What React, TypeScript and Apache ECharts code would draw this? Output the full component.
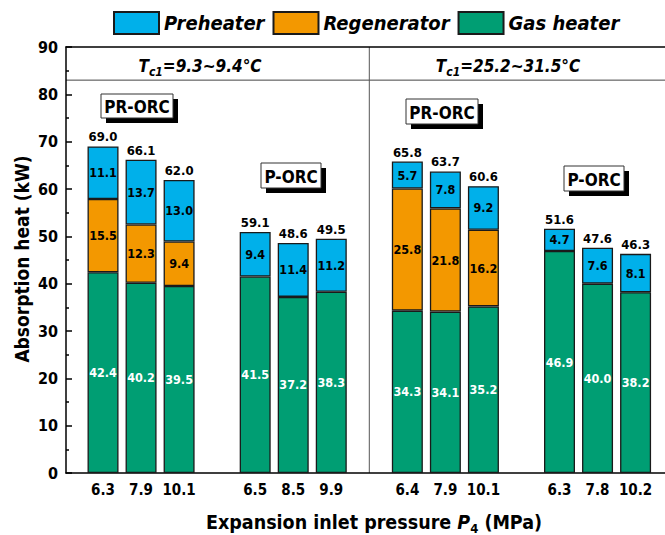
import React, { useEffect, useRef } from "react";
import * as echarts from "echarts";

// Expansion inlet pressure P4 (MPa) for each bar slot; empty slots separate the groups
const slotLabels = ["6.3", "7.9", "10.1", "", "6.5", "8.5", "9.9", "", "6.4", "7.9", "10.1", "", "6.3", "7.8", "10.2"];

// Absorbed heat per heat exchanger (kW)
const gasHeater = [42.4, 40.2, 39.5, null, 41.5, 37.2, 38.3, null, 34.3, 34.1, 35.2, null, 46.9, 40.0, 38.2];
const regenerator = [15.5, 12.3, 9.4, null, null, null, null, null, 25.8, 21.8, 16.2, null, null, null, null];
const preheater = [11.1, 13.7, 13.0, null, 9.4, 11.4, 11.2, null, 5.7, 7.8, 9.2, null, 4.7, 7.6, 8.1];

// Total absorption heat printed above each bar (kW)
const totals = [69.0, 66.1, 62.0, null, 59.1, 48.6, 49.5, null, 65.8, 63.7, 60.6, null, 51.6, 47.6, 46.3];

// Cooling-water temperature ranges of the two cases
const caseRanges = ["9.3~9.4°C", "25.2~31.5°C"];

const yTicks = { min: 0, max: 90, interval: 10 };
const headerBandValue = 83; // lower edge of the case header band
const dividerSlot = 7; // empty slot between the two cases

const FONT = "'DejaVu Sans Condensed', 'DejaVu Sans', sans-serif";
const BLUE = "#00B0EA";
const ORANGE = "#F39800";
const GREEN = "#009E73";
const EDGE = "#1a1a1a";

const fmt = (v: number | null) => (v == null ? "" : v.toFixed(1));

export default function App() {
  const ref = useRef<HTMLDivElement>(null);

  useEffect(() => {
    if (!ref.current) return;
    const chart = echarts.init(ref.current, null, { renderer: "svg" });

    const barBase = {
      type: "bar" as const,
      stack: "heat",
      xAxisIndex: 1,
      yAxisIndex: 1,
      barWidth: 31,
      emphasis: { disabled: true },
    };
    const segLabel = (color: string) => ({
      show: true,
      position: "inside" as const,
      color,
      fontFamily: FONT,
      fontWeight: "bold" as const,
      fontSize: 12.5,
      formatter: (p: any) => fmt(p.value),
    });

    chart.setOption({
      animation: false,
      legend: {
        data: ["Preheater", "Regenerator", "Gas heater"],
        left: 113,
        top: 11,
        padding: 0,
        icon: "rect",
        itemWidth: 45,
        itemHeight: 22,
        itemGap: 8,
        selectedMode: false,
        textStyle: {
          fontFamily: FONT,
          fontSize: 20,
          fontWeight: "bold",
          fontStyle: "italic",
          color: "#000",
        },
      },
      grid: [
        { left: 66, right: 0, top: 47, bottom: 62 },
        { left: 84, right: 10.4, top: 47, bottom: 62 },
      ],
      xAxis: [
        {
          type: "value",
          gridIndex: 0,
          min: 0,
          max: 1,
          axisLine: { show: true, onZero: false, lineStyle: { color: "#000", width: 1.5 } },
          axisTick: { show: false },
          axisLabel: { show: false },
          splitLine: { show: false },
        },
        {
          type: "category",
          gridIndex: 1,
          data: slotLabels,
          axisLine: { show: false },
          axisTick: { show: false },
          axisLabel: {
            interval: 0,
            margin: 9,
            color: "#000",
            fontFamily: FONT,
            fontWeight: "bold",
            fontSize: 15,
          },
        },
        {
          type: "value",
          gridIndex: 0,
          position: "top",
          min: 0,
          max: 1,
          axisLine: { show: true, onZero: false, lineStyle: { color: "#000", width: 1.5 } },
          axisTick: { show: false },
          axisLabel: { show: false },
          splitLine: { show: false },
        },
      ],
      yAxis: [
        {
          type: "value",
          gridIndex: 0,
          ...yTicks,
          axisLine: { show: true, lineStyle: { color: "#000", width: 1.5 } },
          axisTick: { show: true, inside: true, length: 6, lineStyle: { color: "#000", width: 1.5 } },
          minorTick: { show: true, splitNumber: 2, length: 3, lineStyle: { color: "#000", width: 1.5 } },
          axisLabel: {
            margin: 8,
            color: "#000",
            fontFamily: FONT,
            fontWeight: "bold",
            fontSize: 16,
          },
          splitLine: { show: false },
        },
        {
          type: "value",
          gridIndex: 1,
          ...yTicks,
          show: false,
          splitLine: { show: false },
        },
      ],
      series: [
        {
          ...barBase,
          name: "Gas heater",
          data: gasHeater,
          itemStyle: { color: GREEN, borderColor: EDGE, borderWidth: 1.3 },
          label: segLabel("#fff"),
        },
        {
          ...barBase,
          name: "Regenerator",
          data: regenerator,
          itemStyle: { color: ORANGE, borderColor: EDGE, borderWidth: 1.3 },
          label: segLabel("#000"),
        },
        {
          ...barBase,
          name: "Preheater",
          data: preheater,
          itemStyle: { color: BLUE, borderColor: EDGE, borderWidth: 1.3 },
          label: segLabel("#000"),
        },
        {
          // zero-height cap that carries the total label on top of each stack
          ...barBase,
          name: "Total",
          data: totals.map((t) => (t == null ? null : 0)),
          itemStyle: { color: "transparent", borderWidth: 0 },
          label: {
            show: true,
            position: "top",
            distance: 3,
            color: "#000",
            fontFamily: FONT,
            fontWeight: "bold",
            fontSize: 13,
            formatter: (p: any) => fmt(totals[p.dataIndex]),
          },
        },
      ],
    });

    // Frame details placed through the axes' own scales
    const yBand = chart.convertToPixel({ yAxisIndex: 0 }, headerBandValue) as number;
    const yTop = chart.convertToPixel({ yAxisIndex: 0 }, yTicks.max) as number;
    const yBottom = chart.convertToPixel({ yAxisIndex: 0 }, yTicks.min) as number;
    const xLeft = chart.convertToPixel({ xAxisIndex: 0 }, 0) as number;
    const xRight = chart.convertToPixel({ xAxisIndex: 0 }, 1) as number;
    const xDiv = chart.convertToPixel({ xAxisIndex: 1 }, dividerSlot) as number;

    const subRich = {
      m: { fontFamily: FONT, fontSize: 17, fontWeight: "bold", fontStyle: "italic", lineHeight: 24, verticalAlign: "middle" },
      s: { fontFamily: FONT, fontSize: 12, fontWeight: "bold", fontStyle: "italic", lineHeight: 13, verticalAlign: "bottom" },
    };

    const tagBox = (label: string, x: number, y: number, w: number, h: number) => ({
      type: "group",
      x,
      y,
      children: [
        { type: "rect", shape: { x: 5, y: 5, width: w, height: h }, style: { fill: "#000" } },
        { type: "rect", shape: { x: 0, y: 0, width: w, height: h }, style: { fill: "#fff", stroke: "#333", lineWidth: 1 } },
        {
          type: "text",
          x: w / 2,
          y: h / 2 + 1,
          style: {
            text: label,
            align: "center",
            verticalAlign: "middle",
            fontFamily: FONT,
            fontSize: 17,
            fontWeight: "bold",
            fill: "#000",
          },
        },
      ],
    });

    chart.setOption({
      graphic: [
        { type: "line", shape: { x1: xLeft, y1: yBand, x2: xRight, y2: yBand }, style: { stroke: "#444", lineWidth: 1 } },
        { type: "line", shape: { x1: xDiv, y1: yTop, x2: xDiv, y2: yBottom }, style: { stroke: "#555", lineWidth: 1 } },
        {
          type: "text",
          x: 200,
          y: 66,
          style: {
            text: `{m|T}{s|c1}{m|=${caseRanges[0]}}`,
            rich: subRich,
            align: "center",
            verticalAlign: "middle",
            fill: "#000",
          },
        },
        {
          type: "text",
          x: 508,
          y: 66,
          style: {
            text: `{m|T}{s|c1}{m|=${caseRanges[1]}}`,
            rich: subRich,
            align: "center",
            verticalAlign: "middle",
            fill: "#000",
          },
        },
        tagBox("PR-ORC", 101, 94, 72, 24),
        tagBox("P-ORC", 261, 163, 60, 25),
        tagBox("PR-ORC", 406, 99, 72, 25),
        tagBox("P-ORC", 564, 166, 60, 25),
        {
          type: "text",
          x: 22,
          y: 259,
          rotation: Math.PI / 2,
          style: {
            text: "Absorption heat (kW)",
            align: "center",
            verticalAlign: "middle",
            fontFamily: FONT,
            fontSize: 19,
            fontWeight: "bold",
            fill: "#000",
          },
        },
        {
          type: "text",
          x: 374,
          y: 522,
          style: {
            text: "{b|Expansion inlet pressure }{i|P}{s|4}{b| (MPa)}",
            align: "center",
            verticalAlign: "middle",
            fill: "#000",
            rich: {
              b: { fontFamily: FONT, fontSize: 19.5, fontWeight: "bold", lineHeight: 26, verticalAlign: "middle" },
              i: { fontFamily: FONT, fontSize: 19.5, fontWeight: "bold", fontStyle: "italic", lineHeight: 26, verticalAlign: "middle" },
              s: { fontFamily: FONT, fontSize: 13, fontWeight: "bold", lineHeight: 14, verticalAlign: "bottom" },
            },
          },
        },
      ],
    });

    return () => chart.dispose();
  }, []);

  return <div ref={ref} style={{ width: 665, height: 535, position: "absolute", left: 0, top: 0 }} />;
}
